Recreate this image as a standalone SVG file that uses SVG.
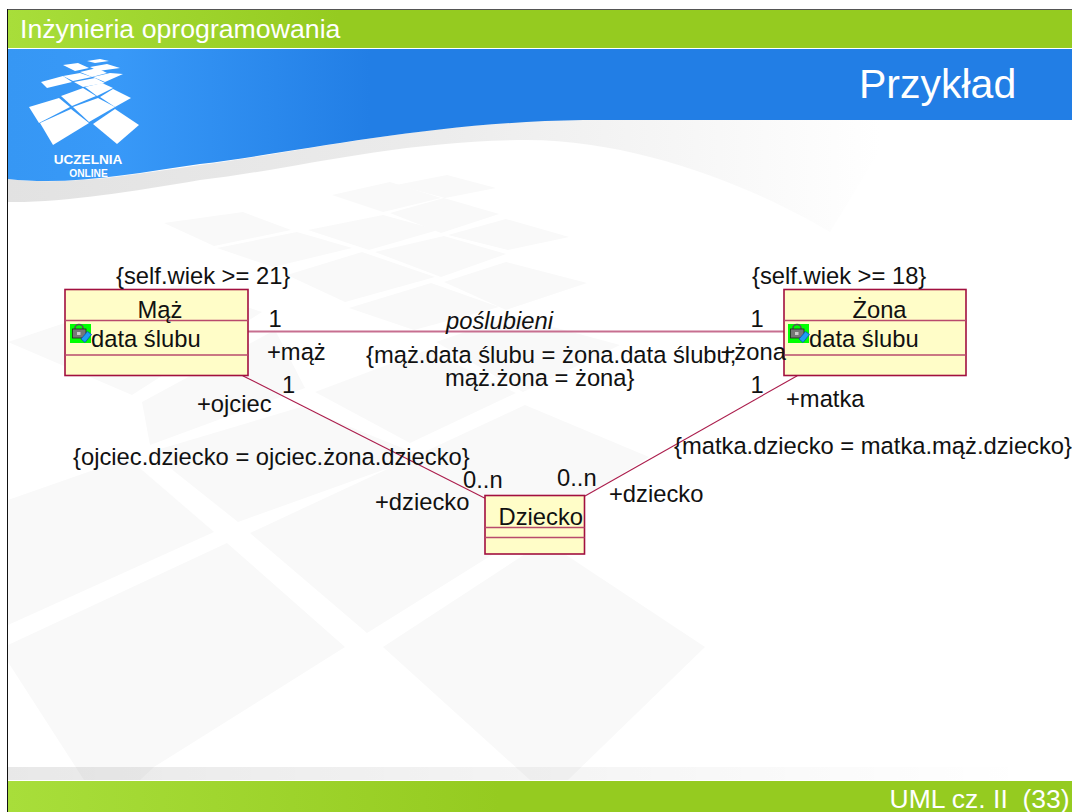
<svg xmlns="http://www.w3.org/2000/svg" width="1072" height="812" viewBox="0 0 1072 812">
<style>
text{font-family:"Liberation Sans",Arial,sans-serif;fill:#111;font-size:23.75px;white-space:pre}
text.w{fill:#fff}
.box{fill:#fffdc8;stroke:#a2103f;stroke-width:1.6}
.sep{stroke:#b84a6c;stroke-width:1.4;fill:none}
.as{stroke:#ab1d4c;stroke-width:1.1;fill:none}
.tile{fill:#f9f9f9}
.logo{fill:#fff}
.gr{fill:#0f0}
</style>
<defs>
<linearGradient id="g" x1="8" x2="340" y1="0" y2="0" gradientUnits="userSpaceOnUse"><stop offset="0" stop-color="#a8de3a"/><stop offset="1" stop-color="#95cb20"/></linearGradient>
<linearGradient id="g2" x1="8" x2="500" y1="0" y2="0" gradientUnits="userSpaceOnUse"><stop offset="0" stop-color="#a8de3a"/><stop offset="1" stop-color="#95cb20"/></linearGradient>
<linearGradient id="b" x1="8" x2="370" y1="0" y2="0" gradientUnits="userSpaceOnUse"><stop offset="0" stop-color="#3697f4"/><stop offset="0.3" stop-color="#3899f8"/><stop offset="1" stop-color="#227ee5"/></linearGradient>
<linearGradient id="sw" x1="8" x2="880" y1="0" y2="0" gradientUnits="userSpaceOnUse"><stop offset="0" stop-color="#e2e2e2"/><stop offset="0.5" stop-color="#ececec"/><stop offset="1" stop-color="#fff"/></linearGradient>
<linearGradient id="ft" x1="8" x2="1030" y1="0" y2="0" gradientUnits="userSpaceOnUse"><stop offset="0" stop-color="#000" stop-opacity=".09"/><stop offset="1" stop-color="#000" stop-opacity="0"/></linearGradient>
<g id="icon">
<rect class="gr" width="21" height="19"/>
<path d="M5,6V4a4,3.500 0 0 1 8,0V6" fill="none" stroke="#555" stroke-width="1.6"/>
<rect x="2.500" y="5" width="13.500" height="9" fill="#777" stroke="#222" stroke-width=".8"/>
<rect x="7" y="8" width="3.500" height="3" fill="#ccc"/>
<path d="M11,15 17.500,7.500 21.500,10.500 15,18.500Z" fill="#1f9cf5" stroke="#0b4fb0" stroke-width=".8"/>
</g>
</defs>
<rect width="1072" height="812" fill="#fff"/>
<g id="watermark">
<polygon class="tile" points="164,223 243,212 291,230 214,246"/>
<polygon class="tile" points="217,248 297,232 352,248 273,267"/>
<polygon class="tile" points="308,230 383,215 438,230 369,250"/>
<polygon class="tile" points="332,195 390,182 441,198 383,212"/>
<polygon class="tile" points="396,185 447,175 496,188 445,198"/>
<polygon class="tile" points="390,213 444,198 499,214 441,233"/>
<polygon class="tile" points="448,235 506,219 569,237 508,250"/>
<polygon class="tile" points="287,275 362,252 435,277 345,302"/>
<polygon class="tile" points="375,252 444,236 506,254 441,277"/>
<polygon class="tile" points="349,308 431,283 499,307 414,330"/>
<polygon class="tile" points="444,282 506,262 587,283 506,310"/>
<polygon class="tile" points="315,392 427,350 516,393 410,443"/>
<polygon class="tile" points="436,342 512,316 620,345 523,392"/>
<polygon class="tile" points="8,342 178,285 262,312 132,395"/>
<polygon class="tile" points="142,402 275,330 305,388 150,445"/>
<polygon class="tile" points="8,500 128,458 214,532 8,625"/>
<polygon class="tile" points="150,452 301,407 422,456 238,522"/>
<polygon class="tile" points="250,533 525,405 649,457 367,633"/>
<polygon class="tile" points="8,645 227,543 345,647 154,767 140,780 84,780 8,662"/>
<polygon class="tile" points="383,647 545,541 705,647 568,780 530,780"/>
</g>
<g id="header">
<path d="M8,179C70,186 130,175 200,165C300,152 430,122 583,119L900,120C870,165 850,200 830,232C760,190 640,140 527,140C400,140 290,170 200,180C130,192 60,203 8,202Z" fill="url(#sw)"/>
<path d="M8,49H1072V120H583C430,122 300,152 200,164C130,174 70,186 8,179Z" fill="url(#b)"/>
<rect x="8" y="48" width="1064" height="1" fill="#fff"/>
<rect x="8" y="10" width="1064" height="38" fill="url(#g)"/>
<rect x="7" y="9" width="1065" height="1" fill="#555"/>
<rect x="7" y="9" width="1" height="803" fill="#111"/>
<text class="w" x="20" y="37.500" style="font-size:26.7px">Inżynieria oprogramowania</text>
<text class="w" x="859" y="98" style="font-size:41px">Przykład</text>
</g>
<g id="logo">
<polygon class="logo" points="29,107 59,98 70,107 39,123"/>
<polygon class="logo" points="40,123 71,109 89,123 53,145"/>
<polygon class="logo" points="93,124 115,109 139,125 117,144"/>
<polygon class="logo" points="73,107 98,98 115,107 89,122"/>
<polygon class="logo" points="61,96 83,88 96,96 72,106"/>
<polygon class="logo" points="100,97 113,89 131,98 115,107"/>
<polygon class="logo" points="85,87 102,83 113,88 97,96"/>
<polygon class="logo" points="41,82 63,76 72,82 47,88"/>
<polygon class="logo" points="63,76 80,73 92,77 73,81"/>
<polygon class="logo" points="74,82 95,78 105,83 83,87"/>
<polygon class="logo" points="80,72 97,68 107,73 92,77"/>
<polygon class="logo" points="93,77 110,73 123,74 105,82"/>
<polygon class="logo" points="63,65 78,63 89,68 75,71"/>
<polygon class="logo" points="90,67 107,64 120,68 98,71"/>
<polygon class="logo" points="87,61 100,59 109,61 95,63"/>
<text class="w" x="88" y="164" text-anchor="middle" font-weight="bold" style="font-size:13.6px">UCZELNIA</text>
<text class="w" x="88.500" y="177" text-anchor="middle" font-weight="bold" style="font-size:10.2px">ONLINE</text>
</g>
<g id="footer">
<rect x="8" y="767" width="1064" height="13" fill="url(#ft)"/>
<rect x="8" y="781" width="1064" height="31" fill="url(#g2)"/>
<text class="w" x="889.500" y="808" style="font-size:26.5px">UML cz. II  (33)</text>
</g>
<g id="connectors">
<line class="as" x1="248" y1="331.500" x2="784" y2="331.500" style="stroke:#c76f90;stroke-width:2"/>
<line class="as" x1="242.700" y1="375.700" x2="485" y2="498.300"/>
<line class="as" x1="585" y1="496" x2="797.300" y2="375.700"/>
</g>
<g id="node-maz">
<rect class="box" x="65" y="289.500" width="183" height="86"/>
<line class="sep" x1="65" y1="320.500" x2="248" y2="320.500"/>
<line class="sep" x1="65" y1="355" x2="248" y2="355"/>
<text x="160" y="317.500" text-anchor="middle">Mąż</text>
<use href="#icon" x="70" y="324"/>
<text x="91" y="347">data ślubu</text>
</g>
<g id="node-zona">
<rect class="box" x="784" y="289.500" width="182" height="86"/>
<line class="sep" x1="784" y1="320.500" x2="966" y2="320.500"/>
<line class="sep" x1="784" y1="355" x2="966" y2="355"/>
<text x="879.500" y="317.500" text-anchor="middle">Żona</text>
<use href="#icon" x="788" y="324"/>
<text x="809" y="347">data ślubu</text>
</g>
<g id="node-dziecko">
<rect class="box" x="485" y="495.500" width="99.500" height="58.500"/>
<line class="sep" x1="485" y1="527.500" x2="584.500" y2="527.500"/>
<line class="sep" x1="485" y1="537.500" x2="584.500" y2="537.500"/>
<text x="498.500" y="525">Dziecko</text>
</g>
<g id="labels">
<text x="116" y="284">{self.wiek &gt;= 21}</text>
<text x="752" y="284">{self.wiek &gt;= 18}</text>
<text x="268.500" y="327">1</text>
<text x="267" y="360">+mąż</text>
<text x="282" y="393">1</text>
<text x="197" y="412">+ojciec</text>
<text x="73" y="465">{ojciec.dziecko = ojciec.żona.dziecko}</text>
<text x="446" y="329" font-style="italic">poślubieni</text>
<text x="366" y="363">{mąż.data ślubu = żona.data ślubu;</text>
<text x="445" y="386">mąż.żona = żona}</text>
<text x="750.500" y="327">1</text>
<text x="720.500" y="360">+żona</text>
<text x="750.500" y="393">1</text>
<text x="786" y="407">+matka</text>
<text x="674" y="454">{matka.dziecko = matka.mąż.dziecko}</text>
<text x="463" y="488">0..n</text>
<text x="557" y="486">0..n</text>
<text x="375" y="510">+dziecko</text>
<text x="609" y="502">+dziecko</text>
</g>
</svg>
